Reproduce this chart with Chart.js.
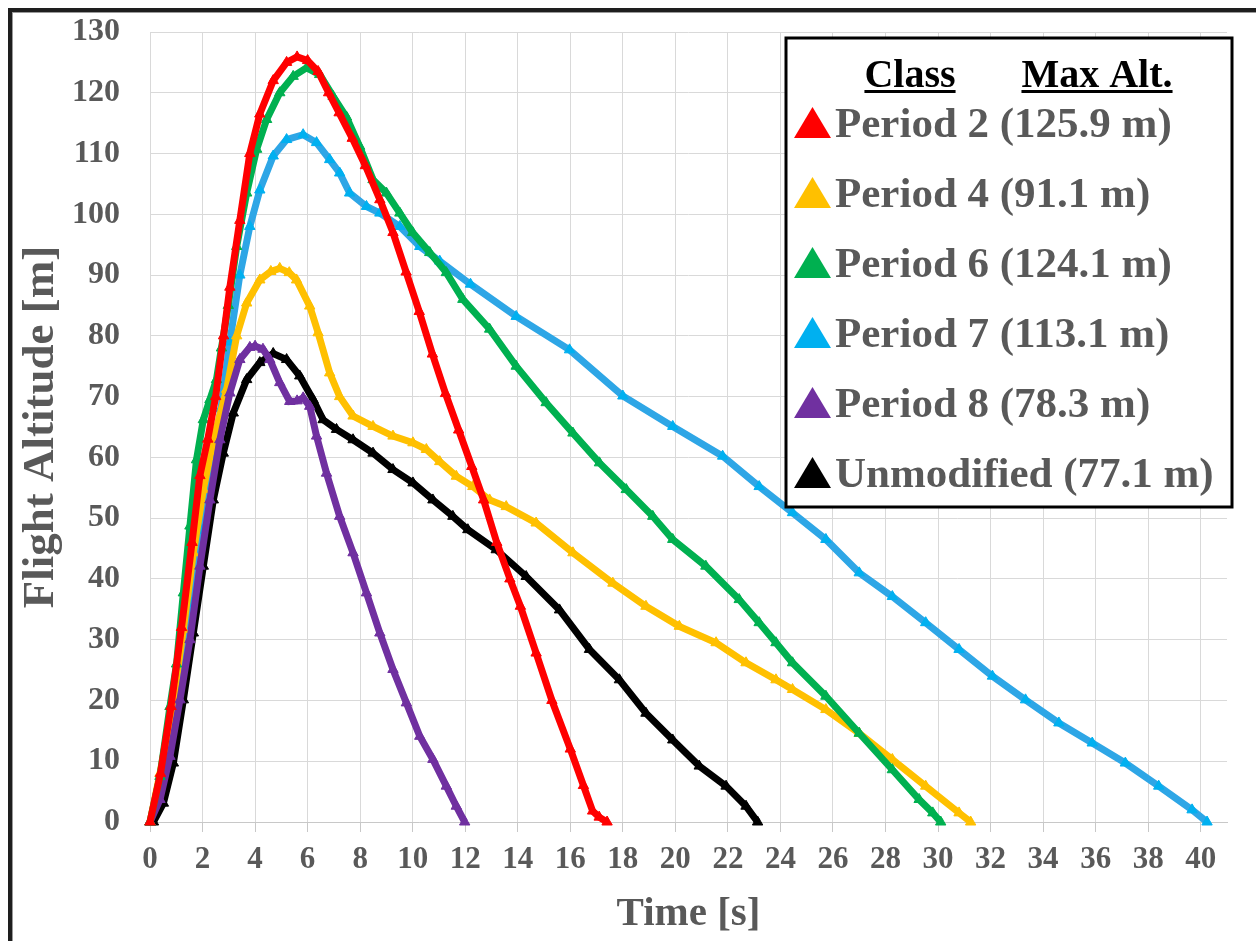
<!DOCTYPE html>
<html>
<head>
<meta charset="utf-8">
<script src="https://cdn.jsdelivr.net/npm/chart.js@4.4.0/dist/chart.umd.min.js"></script>
<style>
  html, body { margin: 0; padding: 0; background: #fff; overflow: hidden; }
  #frame {
    position: absolute; left: 8px; top: 8px; width: 1400px; height: 1100px;
    border-left: 4px solid #1e1e1e; border-top: 4px solid #1e1e1e;
    box-shadow: inset 1px 1px 0 #9a9a9a;
  }
  #myChart { position: absolute; left: 0; top: 0; }
</style>
</head>
<body>
<div id="frame"></div>
<canvas id="myChart" width="1256" height="941"></canvas>
<script>
// series names and max altitude shown in the legend
let seriesNames = ["Period 2", "Period 4", "Period 6", "Period 7", "Period 8", "Unmodified"];
let maxAlt = [125.9, 91.1, 124.1, 113.1, 78.3, 77.1];
let seriesColors = ["#FF0000", "#FFC000", "#00B050", "#00B0F0", "#7030A0", "#000000"];

// x axis ticks (time, s) and y axis ticks (altitude, m)
let xTicks = [0, 2, 4, 6, 8, 10, 12, 14, 16, 18, 20, 22, 24, 26, 28, 30, 32, 34, 36, 38, 40];
let yTicks = [0, 10, 20, 30, 40, 50, 60, 70, 80, 90, 100, 110, 120, 130];

// values
let p2Time = [0, 0.4, 0.8, 1.2, 1.6, 1.9, 2.2, 2.5, 2.8, 3.04, 3.42, 3.8, 4.18, 4.69, 5.2, 5.6, 6.0, 6.4, 6.8, 7.2, 7.7, 8.2, 8.75, 9.25, 9.75, 10.25, 10.75, 11.25, 11.75, 12.25, 12.7, 13.2, 13.7, 14.1, 14.7, 15.3, 16.0, 16.5, 16.85, 17.1, 17.4];
let p2Alt  = [0, 8, 19, 32, 46, 57, 63, 70, 80, 88, 99, 110, 116.5, 122, 125, 125.9, 125.3, 123.5, 120, 116.7, 112.5, 108, 102.4, 97, 90.5, 84, 77, 70.5, 64.5, 58.5, 53, 46, 40, 35.5, 27.8, 20, 12, 6, 1.8, 0.8, 0];

let p4Time = [0, 0.38, 0.89, 1.27, 1.65, 2.03, 2.41, 2.92, 3.3, 3.68, 4.18, 4.6, 4.94, 5.3, 5.58, 6.08, 6.4, 6.84, 7.22, 7.73, 8.49, 9.25, 10.01, 10.52, 11.03, 11.66, 12.29, 12.93, 13.56, 14.7, 16.1, 17.62, 18.88, 20.15, 21.55, 22.69, 23.83, 24.46, 25.73, 27.0, 28.26, 29.53, 30.8, 31.24];
let p4Alt  = [0, 8, 20, 31.7, 44.3, 54.7, 62.9, 71.2, 80, 85.4, 89.2, 90.6, 91.1, 90.4, 89.2, 84.9, 80.5, 73.9, 70, 66.8, 65.1, 63.5, 62.4, 61.3, 59.3, 56.9, 55.2, 53, 51.9, 49.2, 44.3, 39.3, 35.5, 32.2, 29.5, 26.2, 23.4, 21.8, 18.5, 14.6, 10.3, 5.9, 1.5, 0];

let p6Time = [0, 0.38, 0.76, 1.01, 1.27, 1.52, 1.77, 2.03, 2.28, 2.53, 2.72, 2.98, 3.3, 3.68, 4.06, 4.44, 4.94, 5.45, 5.96, 6.46, 6.97, 7.48, 7.98, 8.49, 9.0, 9.51, 10.0, 10.65, 11.28, 11.91, 12.93, 13.94, 15.08, 16.1, 17.11, 18.13, 19.14, 19.9, 21.16, 22.43, 23.19, 23.83, 24.46, 25.73, 27.0, 28.26, 29.28, 29.8, 30.1];
let p6Alt  = [0, 7.5, 19, 26, 37.7, 48.7, 59.6, 66.2, 69.5, 72.8, 78, 85, 94.7, 103.5, 110.7, 115.6, 120, 122.7, 124.1, 123, 119.4, 116, 111.2, 105.7, 103.5, 100.2, 97, 93.7, 90.4, 86, 81.1, 75, 69, 64, 59.1, 54.7, 50.3, 46.5, 42.1, 36.6, 32.8, 29.5, 26.2, 20.7, 14.6, 8.6, 3.7, 1.5, 0];

let p7Time = [0, 0.4, 0.8, 1.2, 1.6, 2.0, 2.4, 2.7, 3.04, 3.42, 3.8, 4.18, 4.69, 5.2, 5.83, 6.34, 6.84, 7.22, 7.6, 8.24, 8.75, 9.51, 10.27, 11.03, 12.2, 13.94, 15.97, 18.0, 19.9, 21.8, 23.19, 24.46, 25.73, 27.0, 28.26, 29.53, 30.8, 32.07, 33.33, 34.6, 35.87, 37.13, 38.4, 39.67, 40.24];
let p7Alt  = [0, 5, 13, 23, 36, 48, 60, 68, 79, 90, 98, 104, 109.6, 112.3, 113.1, 111.8, 109, 106.8, 103.5, 101.3, 100.2, 98, 94.7, 92.3, 88.5, 83.2, 77.7, 70.1, 65.1, 60.2, 55.2, 50.9, 46.5, 41, 37.1, 32.8, 28.4, 24, 20.1, 16.3, 13, 9.7, 5.9, 2, 0];

let p8Time = [0, 0.38, 0.76, 1.14, 1.52, 1.9, 2.28, 2.66, 3.04, 3.42, 3.8, 4.0, 4.3, 4.56, 4.94, 5.32, 5.6, 5.83, 6.08, 6.34, 6.72, 7.22, 7.73, 8.24, 8.75, 9.25, 9.76, 10.27, 10.77, 11.28, 11.66, 11.98];
let p8Alt  = [0, 3.7, 10.8, 20.1, 30, 42.1, 53, 62.9, 70.6, 76.1, 78.1, 78.3, 77.8, 76.1, 72.3, 69.2, 69.3, 69.8, 68.4, 63.5, 57.4, 50.3, 44.3, 37.7, 31.1, 25.1, 19.6, 14.1, 10.3, 5.9, 2.6, 0];

let unmodTime = [0, 0.13, 0.51, 0.89, 1.27, 1.65, 2.03, 2.41, 2.79, 3.17, 3.68, 4.18, 4.69, 5.2, 5.7, 6.21, 6.59, 7.1, 7.73, 8.49, 9.25, 10.01, 10.77, 11.53, 12.1, 13.18, 14.32, 15.59, 16.73, 17.87, 18.88, 19.9, 20.91, 21.93, 22.69, 23.13];
let unmodAlt  = [0, 0, 3.1, 9.7, 20.1, 31.1, 42.1, 53, 60.7, 67.3, 72.8, 75.6, 77.1, 76.1, 73.4, 69.5, 66.2, 64.6, 62.9, 60.7, 58, 55.8, 53, 50.3, 48.1, 44.8, 40.4, 34.9, 28.4, 23.4, 17.9, 13.5, 9.2, 5.9, 2.6, 0];

let allTimes = [p2Time, p4Time, p6Time, p7Time, p8Time, unmodTime];
let allAlts = [p2Alt, p4Alt, p6Alt, p7Alt, p8Alt, unmodAlt];
// which series sits on top (lower = on top)
let drawOrder = [0, 3, 1, 5, 2, 4];

function toPoints(times, alts) {
    let pts = [];
    for (let i = 0; i < times.length; i++) {
        pts.push({x: times[i], y: alts[i]});
    }
    return pts;
}

let datasets = [];
for (let i = 0; i < seriesNames.length; i++) {
    datasets.push({
        label: seriesNames[i] + " (" + maxAlt[i] + " m)",
        data: toPoints(allTimes[i], allAlts[i]),
        showLine: true,
        borderColor: i == 3 ? "#2EA6E6" : seriesColors[i],
        backgroundColor: seriesColors[i],
        borderWidth: 7,
        tension: 0,
        pointStyle: "triangle",
        pointRadius: 6,
        pointBorderWidth: 1,
        pointBorderColor: seriesColors[i],
        pointBackgroundColor: seriesColors[i],
        order: drawOrder[i],
        clip: false
    });
}

const fontFam = "'Liberation Serif', 'Times New Roman', serif";
const gray = "#595959";

// legend box with "Class / Max Alt." header
const legendBox = {
    id: "legendBox",
    afterDraw(chart) {
        const ctx = chart.ctx;
        const bx = 786, by = 38, bw = 446, bh = 469;
        ctx.save();
        ctx.fillStyle = "#fff";
        ctx.fillRect(bx, by, bw, bh);
        ctx.lineWidth = 3;
        ctx.strokeStyle = "#000";
        ctx.strokeRect(bx, by, bw, bh);

        ctx.fillStyle = "#000";
        ctx.font = "bold 40px " + fontFam;
        ctx.textAlign = "center";
        ctx.textBaseline = "alphabetic";
        let heads = [["Class", 910], ["Max Alt.", 1097]];
        heads.forEach(function (h) {
            ctx.fillText(h[0], h[1], 87);
            let w = ctx.measureText(h[0]).width;
            ctx.fillRect(h[1] - w / 2, 90, w, 3);
        });

        ctx.textAlign = "left";
        ctx.font = "bold 43px " + fontFam;
        chart.data.datasets.forEach(function (ds, i) {
            let base = 137 + i * 70;
            ctx.fillStyle = ds.backgroundColor;
            ctx.beginPath();
            ctx.moveTo(794, base + 1);
            ctx.lineTo(812.5, base - 30);
            ctx.lineTo(831, base + 1);
            ctx.closePath();
            ctx.fill();
            ctx.fillStyle = gray;
            ctx.fillText(ds.label, 835, base);
        });
        ctx.restore();
    }
};

new Chart(document.getElementById("myChart"), {
    type: "scatter",
    data: { datasets: datasets },
    plugins: [legendBox],
    options: {
        responsive: false,
        animation: false,
        layout: { padding: { left: 14, top: 32, right: 29, bottom: 0 } },
        plugins: {
            legend: { display: false },
            tooltip: { enabled: false }
        },
        scales: {
            x: {
                type: "linear",
                min: 0,
                max: 41,
                afterBuildTicks: function (scale) {
                    scale.ticks = xTicks.map(v => ({value: v}));
                },
                afterFit: function (scale) {
                    scale.height = 119;
                    scale.paddingLeft = 0;
                    scale.paddingRight = 0;
                },
                ticks: {
                    padding: 9,
                    color: gray,
                    font: { family: fontFam, size: 31, weight: "bold" },
                    maxRotation: 0,
                    autoSkip: false
                },
                grid: { color: "#d9d9d9", lineWidth: 1, drawTicks: true, tickLength: 10, tickColor: "#c8c8c8" },
                border: { color: "#c8c8c8", width: 1 },
                title: {
                    display: true,
                    text: "Time [s]",
                    color: gray,
                    font: { family: fontFam, size: 41, weight: "bold" },
                    padding: { top: 2, bottom: 2 }
                }
            },
            y: {
                min: 0,
                max: 130,
                afterBuildTicks: function (scale) {
                    scale.ticks = yTicks.map(v => ({value: v}));
                },
                afterFit: function (scale) {
                    scale.width = 136;
                    scale.paddingTop = 0;
                    scale.paddingBottom = 0;
                },
                ticks: {
                    padding: 30,
                    color: gray,
                    font: { family: fontFam, size: 32, weight: "bold" }
                },
                grid: { color: "#d9d9d9", lineWidth: 1, drawTicks: false },
                border: { display: false },
                title: {
                    display: true,
                    text: "Flight Altitude [m]",
                    color: gray,
                    font: { family: fontFam, size: 45, weight: "bold" },
                    padding: { top: 0, bottom: 0 }
                }
            }
        }
    }
});
</script>
</body>
</html>
